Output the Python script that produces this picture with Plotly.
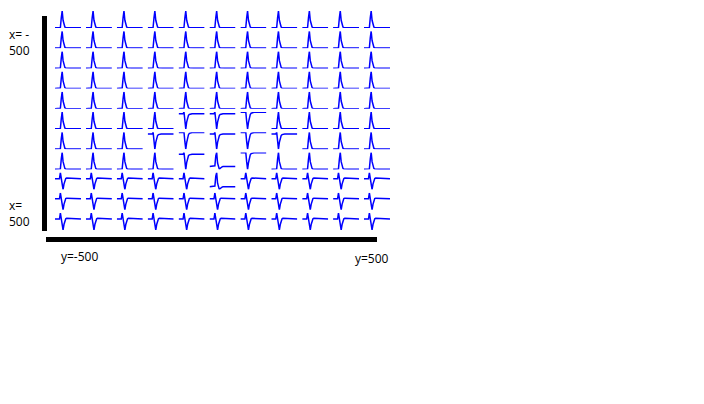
import plotly.graph_objects as go

# ---- data -------------------------------------------------------------
n_rows = 11
n_cols = 11

# waveform templates (one sample per ~0.9 px)
wave_P = [0, 0, 0, 0, 0, 0, 0.02, 0.6, 1.0, 0.45, 0.16, 0.05, 0.01, 0.0, -0.01,
          -0.01, 0, 0, 0, 0, 0, 0, 0, 0, 0, 0, 0, 0, 0, 0]
wave_N = [0, 0, 0, 0, 0, 0, 0.02, -0.55, -1.0, -0.6, -0.3, -0.13, -0.05, -0.02,
          0, 0, 0, 0, 0, 0, 0, 0, 0, 0, 0, 0, 0, 0, 0, 0]
wave_Nb = [0, 0, 0, 0, 0, 0, 0.12, -0.55, -1.0, -0.55, -0.26, -0.1, -0.04, -0.01,
           0, 0, 0, 0, 0, 0, 0, 0, 0, 0, 0, 0, 0, 0, 0, 0]
wave_Pd = [0, 0, 0, 0, 0, 0, 0.05, 0.75, 1.0, 0.25, -0.14, -0.2, -0.12, -0.05,
           -0.02, 0, 0, 0, 0, 0, 0, 0, 0, 0, 0, 0, 0, 0, 0, 0]
wave_B = [0, 0, 0, 0, 0, 0, 0.55, 0.05, -0.8, -1.0, -0.5, -0.15, 0.02, 0.06,
          0.06, 0.05, 0.04, 0.04, 0.03, 0.03, 0.02, 0.02, 0.01, 0.01, 0, 0, 0, 0, 0, 0]

templates = {"P": wave_P, "N": wave_N, "Nb": wave_Nb, "Pd": wave_Pd, "B": wave_B}

cell_types = [
    ["P"] * 11,
    ["P"] * 11,
    ["P"] * 11,
    ["P"] * 11,
    ["P"] * 11,
    ["P", "P", "P", "P", "Nb", "Nb", "N", "P", "P", "P", "P"],
    ["P", "P", "P", "Nb", "N", "Nb", "N", "Nb", "P", "P", "P"],
    ["P", "P", "P", "P", "Nb", "Pd", "N", "P", "P", "P", "P"],
    ["B", "B", "B", "B", "B", "Pd", "B", "B", "B", "B", "B"],
    ["B"] * 11,
    ["B"] * 11,
]

label_top = "x= -<br>500"
label_bottom = "x=<br>500"
label_left = "y=-500"
label_right = "y=500"

# ---- layout geometry (pixels) ----------------------------------------
W, H = 704, 404
x_start, x_pitch, cell_w = 55.0, 30.9, 26.0
y_start, y_pitch, cell_h = 11.0, 20.2, 17.0

fig = go.Figure()
layout = {}
for r in range(n_rows):
    for c in range(n_cols):
        k = r * n_cols + c + 1
        wave = templates[cell_types[r][c]]
        xs = list(range(len(wave)))
        xa = "x" if k == 1 else f"x{k}"
        ya = "y" if k == 1 else f"y{k}"
        fig.add_trace(go.Scatter(x=xs, y=wave, xaxis=xa, yaxis=ya, mode="lines",
                                 line=dict(color="#0000ff", width=1.5),
                                 cliponaxis=False, hoverinfo="skip",
                                 showlegend=False))
        x0 = x_start + x_pitch * c
        y0 = y_start + y_pitch * r
        suffix = "" if k == 1 else str(k)
        layout[f"xaxis{suffix}"] = dict(domain=[x0 / W, (x0 + cell_w) / W],
                                        range=[0, len(wave) - 1], visible=False,
                                        anchor=ya)
        layout[f"yaxis{suffix}"] = dict(domain=[1 - (y0 + cell_h) / H, 1 - y0 / H],
                                        range=[min(wave), max(wave)], visible=False,
                                        anchor=xa)

fig.update_layout(**layout)
fig.update_layout(
    width=W, height=H,
    margin=dict(l=0, r=0, t=0, b=0),
    paper_bgcolor="white", plot_bgcolor="rgba(0,0,0,0)",
    font=dict(family="Open Sans, DejaVu Sans, sans-serif", size=12, color="black"),
    shapes=[
        dict(type="line", xref="paper", yref="paper",
             x0=44.5 / W, x1=44.5 / W, y0=1 - 16 / H, y1=1 - 231 / H,
             line=dict(color="black", width=5)),
        dict(type="line", xref="paper", yref="paper",
             x0=46 / W, x1=377 / W, y0=1 - 239.5 / H, y1=1 - 239.5 / H,
             line=dict(color="black", width=5)),
    ],
    annotations=[
        dict(text=label_top, xref="paper", yref="paper", x=7 / W, y=1 - 24 / H,
             xanchor="left", yanchor="top", showarrow=False, align="left"),
        dict(text=label_bottom, xref="paper", yref="paper", x=7 / W, y=1 - 195 / H,
             xanchor="left", yanchor="top", showarrow=False, align="left"),
        dict(text=label_left, xref="paper", yref="paper", x=59 / W, y=1 - 246 / H,
             xanchor="left", yanchor="top", showarrow=False, align="left"),
        dict(text=label_right, xref="paper", yref="paper", x=353 / W, y=1 - 248 / H,
             xanchor="left", yanchor="top", showarrow=False, align="left"),
    ],
)

fig.write_html("out.html")
